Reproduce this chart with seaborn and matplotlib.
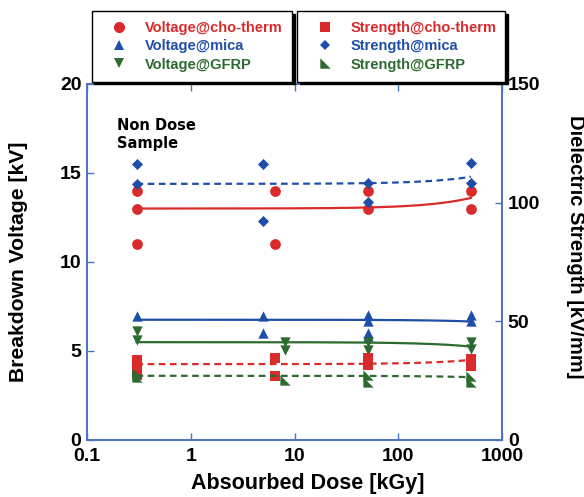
import numpy as np
import pandas as pd
import seaborn as sns
import matplotlib.pyplot as plt
from matplotlib.markers import MarkerStyle
from matplotlib.lines import Line2D
from matplotlib.ticker import FixedLocator, NullLocator

# Farben
RED = '#d92b2b'
BLUE = '#1f4ea8'
GREEN = '#2d6a2f'
AXBLUE = '#4a72c4'

# Dosis-Werte (kGy) und Messwerte
dose_cho = [0.3, 0.3, 0.3, 6.4, 6.4, 51, 51, 500, 500]
volt_cho = [14.0, 13.0, 11.0, 14.0, 11.0, 14.0, 13.0, 14.0, 13.0]

dose_mica_v = [0.3, 5.0, 5.0, 51, 51, 51, 51, 500, 500]
volt_mica = [6.95, 6.95, 6.0, 7.0, 6.7, 6.0, 5.85, 7.0, 6.7]

dose_gfrp_v = [0.3, 0.3, 8.1, 8.1, 51, 51, 500, 500]
volt_gfrp = [6.1, 5.6, 5.5, 5.05, 5.5, 5.05, 5.5, 5.1]

dose_cho_s = [0.3, 0.3, 0.3, 6.4, 6.4, 51, 51, 500, 500]
str_cho = [33.7, 30.5, 27.2, 34.4, 27.0, 34.5, 31.4, 34.2, 31.2]

dose_mica_s = [0.3, 0.3, 5.0, 5.0, 51, 51, 500, 500]
str_mica = [116.3, 107.9, 116.3, 92.3, 108.2, 100.4, 116.6, 108.4]

dose_gfrp_s = [0.3, 0.3, 8.1, 51, 51, 500, 500]
str_gfrp = [28.0, 26.5, 25.3, 27.4, 24.4, 27.0, 24.5]

# lineare Trendlinien (y = a + b*x)
fit_range = [0.3, 500]
fit_v_cho = [12.9996, 0.00120]
fit_v_mica = [6.7506, -0.00020]
fit_v_gfrp = [5.4902, -0.00050]
fit_s_cho = [31.899, 0.00360]
fit_s_mica = [107.898, 0.00600]
fit_s_gfrp = [27.0004, -0.00120]

x_ticks = [0.1, 1, 10, 100, 1000]
x_ticklabels = ['0.1', '1', '10', '100', '1000']

plt.rcParams['font.family'] = ['Liberation Sans', 'DejaVu Sans']

fig = plt.figure(figsize=(5.84, 4.97), dpi=100)
ax = fig.add_axes([0.149, 0.115, 0.711, 0.716])
ax2 = ax.twinx()

x_fit = np.linspace(fit_range[0], fit_range[1], 400)

def trend(axis, coef, color, ls):
    sns.lineplot(x=x_fit, y=coef[0] + coef[1] * x_fit, ax=axis, color=color,
                 linestyle=ls, linewidth=1.6)

trend(ax, fit_v_cho, RED, '-')
trend(ax, fit_v_mica, BLUE, '-')
trend(ax, fit_v_gfrp, GREEN, '-')
trend(ax2, fit_s_cho, RED, (0, (3, 2)))
trend(ax2, fit_s_mica, BLUE, (0, (3, 2)))
trend(ax2, fit_s_gfrp, GREEN, (0, (3, 2)))

rtri = MarkerStyle([(-1, -1), (1, -1), (-1, 1)])

sns.scatterplot(x=dose_cho, y=volt_cho, ax=ax, marker='o', s=60, color=RED, linewidth=0)
sns.scatterplot(x=dose_mica_v, y=volt_mica, ax=ax, marker='^', s=55, color=BLUE, linewidth=0)
sns.scatterplot(x=dose_gfrp_v, y=volt_gfrp, ax=ax, marker='v', s=55, color=GREEN, linewidth=0)
sns.scatterplot(x=dose_cho_s, y=str_cho, ax=ax2, marker='s', s=62, color=RED, linewidth=0)
sns.scatterplot(x=dose_mica_s, y=str_mica, ax=ax2, marker='D', s=32, color=BLUE, linewidth=0)
sns.scatterplot(x=dose_gfrp_s, y=str_gfrp, ax=ax2, marker=rtri, s=55, color=GREEN, linewidth=0)

ax.set_xscale('log')
ax.set_xlim(0.1, 1000)
ax.set_ylim(0, 20)
ax2.set_ylim(0, 150)
ax.xaxis.set_major_locator(FixedLocator(x_ticks))
ax.set_xticklabels(x_ticklabels)
ax.xaxis.set_minor_locator(NullLocator())
ax.set_yticks([0, 5, 10, 15, 20])
ax2.set_yticks([0, 50, 100, 150])

for a in (ax, ax2):
    for sp in a.spines.values():
        sp.set_color(AXBLUE)
        sp.set_linewidth(1.2)
    a.tick_params(direction='in', length=5, width=1, color=AXBLUE,
                  labelsize=14, pad=4)
    for lab in a.get_xticklabels() + a.get_yticklabels():
        lab.set_fontweight('bold')
ax.tick_params(axis='x', top=True, pad=6)

ax.set_xlabel('Absourbed Dose [kGy]', fontsize=15.5, fontweight='bold')
ax.set_ylabel('Breakdown Voltage [kV]', fontsize=15.2, fontweight='bold')
ax2.set_ylabel('Dielectric Strength [kV/mm]', fontsize=14.5, fontweight='bold', rotation=270)
ax.xaxis.set_label_coords(0.531, -0.124)
ax.yaxis.set_label_coords(-0.166, 0.5)
ax2.yaxis.set_label_coords(1.176, 0.542)
ax.xaxis.label.set_va('center')
ax.yaxis.label.set_va('center')
ax2.yaxis.label.set_va('center')

ax.text(0.072, 0.905, 'Non Dose\nSample', transform=ax.transAxes, va='top', ha='left',
        fontsize=10.5, fontweight='bold', family='DejaVu Sans', linespacing=1.25)

# Legenden
def mk(marker, color, ms):
    return Line2D([], [], marker=marker, color=color, linestyle='none', markersize=ms,
                  markeredgewidth=0)

h1 = [mk('o', RED, 8), mk('^', BLUE, 7.5), mk('v', GREEN, 7.5)]
l1 = ['Voltage@cho-therm', 'Voltage@mica', 'Voltage@GFRP']
h2 = [mk('s', RED, 7.5), mk('D', BLUE, 5.5), mk(rtri, GREEN, 7.5)]
l2 = ['Strength@cho-therm', 'Strength@mica', 'Strength@GFRP']

for h, l, x0, w in [(h1, l1, 0.157, 0.343), (h2, l2, 0.509, 0.356)]:
    leg = fig.legend(h, l, loc='upper left', bbox_to_anchor=(x0, 0.978, w, 0), mode='expand',
                     borderaxespad=0, fancybox=False, framealpha=1, edgecolor='black',
                     shadow={'color': 'black', 'alpha': 1}, labelcolor=[RED, BLUE, GREEN],
                     prop={'weight': 'bold', 'size': 10.5}, labelspacing=0.3,
                     borderpad=0.68, handletextpad=0.55, handlelength=2.4)
    leg.get_frame().set_linewidth(1.0)

for a in (ax, ax2):
    if a.get_legend() is not None:
        a.get_legend().remove()

plt.savefig('out.png', dpi=100)
